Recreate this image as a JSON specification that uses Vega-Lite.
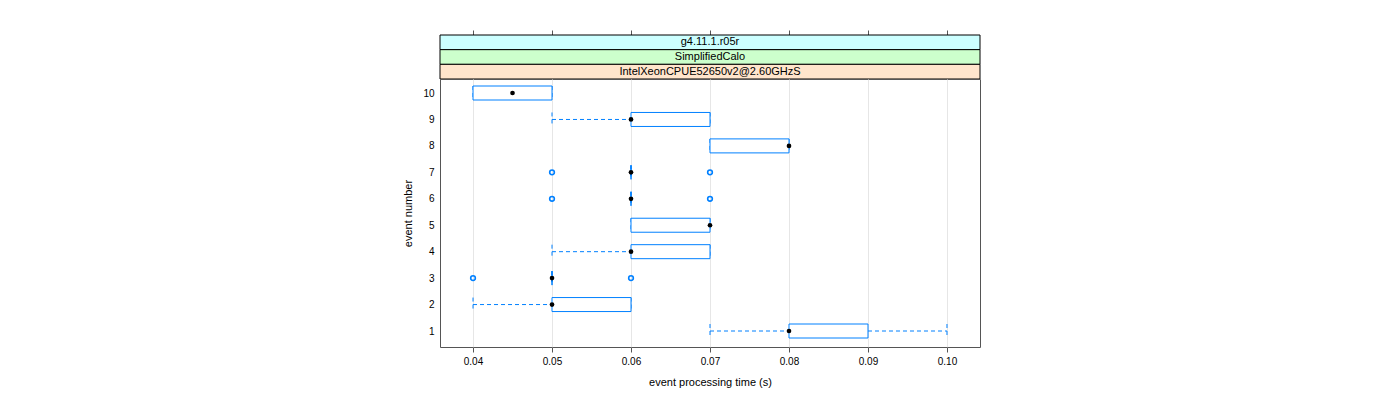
{
  "$schema": "https://vega.github.io/schema/vega-lite/v6.json",
  "background": "white",
  "padding": {"left": 402, "top": 29, "right": 0, "bottom": 0},
  "spacing": 0,
  "bounds": "flush",
  "config": {
    "font": "Liberation Sans",
    "view": {"stroke": null},
    "axis": {"labelFont": "Liberation Sans", "titleFont": "Liberation Sans", "labelColor": "#000", "titleColor": "#000", "tickColor": "#555", "labelFontSize": 10, "titleFontSize": 11, "titleFontWeight": "normal", "tickSize": 5, "labelOverlap": false}
  },
  "datasets": {
    "strips": [
      {"label": "g4.11.1.r05r"},
      {"label": "SimplifiedCalo"},
      {"label": "IntelXeonCPUE52650v2@2.60GHzS"}
    ],
    "boxes": [
      {"event": 10, "lo": 0.04, "q1": 0.04, "med": 0.045, "q3": 0.05, "hi": 0.05},
      {"event": 9, "lo": 0.05, "q1": 0.06, "med": 0.06, "q3": 0.07, "hi": 0.07},
      {"event": 8, "lo": 0.07, "q1": 0.07, "med": 0.08, "q3": 0.08, "hi": 0.08},
      {"event": 7, "lo": 0.06, "q1": 0.06, "med": 0.06, "q3": 0.06, "hi": 0.06},
      {"event": 6, "lo": 0.06, "q1": 0.06, "med": 0.06, "q3": 0.06, "hi": 0.06},
      {"event": 5, "lo": 0.06, "q1": 0.06, "med": 0.07, "q3": 0.07, "hi": 0.07},
      {"event": 4, "lo": 0.05, "q1": 0.06, "med": 0.06, "q3": 0.07, "hi": 0.07},
      {"event": 3, "lo": 0.05, "q1": 0.05, "med": 0.05, "q3": 0.05, "hi": 0.05},
      {"event": 2, "lo": 0.04, "q1": 0.05, "med": 0.05, "q3": 0.06, "hi": 0.06},
      {"event": 1, "lo": 0.07, "q1": 0.08, "med": 0.08, "q3": 0.09, "hi": 0.10}
    ],
    "outliers": [
      {"event": 7, "value": 0.05},
      {"event": 7, "value": 0.07},
      {"event": 6, "value": 0.05},
      {"event": 6, "value": 0.07},
      {"event": 3, "value": 0.04},
      {"event": 3, "value": 0.06}
    ]
  },
  "vconcat": [
    {
      "width": 540,
      "height": 44,
      "data": {"name": "strips"},
      "layer": [
        {
          "mark": {"type": "rect", "stroke": "#000", "strokeWidth": 1},
          "encoding": {
            "y": {"field": "label", "type": "nominal", "sort": null, "axis": null, "scale": {"paddingInner": 0, "paddingOuter": 0}},
            "fill": {"field": "label", "type": "nominal", "legend": null, "scale": {"domain": ["g4.11.1.r05r", "SimplifiedCalo", "IntelXeonCPUE52650v2@2.60GHzS"], "range": ["#ccffff", "#ccffcc", "#ffe5cc"]}}
          }
        },
        {
          "mark": {"type": "text", "fontSize": 11, "color": "#000", "font": "Liberation Sans"},
          "encoding": {
            "y": {"field": "label", "type": "nominal", "sort": null, "axis": null},
            "x": {"datum": 0.07, "type": "quantitative", "scale": {"domain": [0.03582, 0.10418], "nice": false, "zero": false}, "axis": {"orient": "top", "values": [0.04, 0.05, 0.06, 0.07, 0.08, 0.09, 0.1], "labels": false, "domain": false, "grid": false, "title": null}},
            "text": {"field": "label"}
          }
        }
      ]
    },
    {
      "width": 540,
      "height": 268,
      "view": {"stroke": "#555", "strokeWidth": 1},
      "encoding": {
        "y": {"field": "event", "type": "quantitative", "scale": {"domain": [0.395, 10.53], "nice": false, "zero": false}, "axis": {"values": [1, 2, 3, 4, 5, 6, 7, 8, 9, 10], "labelOverlap": false, "ticks": false, "domain": false, "grid": false, "title": "event number", "labelPadding": 6, "titlePadding": 9}}
      },
      "layer": [
        {
          "data": {"name": "boxes"},
          "mark": {"type": "rule", "color": "#0080ff", "strokeDash": [4, 3], "strokeWidth": 1},
          "encoding": {
            "x": {"field": "lo", "type": "quantitative", "scale": {"domain": [0.03582, 0.10418], "nice": false, "zero": false}, "axis": {"values": [0.04, 0.05, 0.06, 0.07, 0.08, 0.09, 0.1], "format": ".2f", "domain": false, "grid": true, "gridColor": "#e6e6e6", "labelPadding": 4, "title": "event processing time (s)", "titlePadding": 10}},
            "x2": {"field": "q1"}
          }
        },
        {
          "data": {"name": "boxes"},
          "mark": {"type": "rule", "color": "#0080ff", "strokeDash": [4, 3], "strokeWidth": 1},
          "encoding": {
            "x": {"field": "q3", "type": "quantitative"},
            "x2": {"field": "hi"}
          }
        },
        {
          "data": {"name": "boxes"},
          "mark": {"type": "rule", "color": "#0080ff", "strokeDash": [4, 3], "strokeWidth": 1, "yOffset": -7, "y2Offset": 7},
          "encoding": {
            "x": {"field": "lo", "type": "quantitative"},
            "y2": {"field": "event"}
          }
        },
        {
          "data": {"name": "boxes"},
          "mark": {"type": "rule", "color": "#0080ff", "strokeDash": [4, 3], "strokeWidth": 1, "yOffset": -7, "y2Offset": 7},
          "encoding": {
            "x": {"field": "hi", "type": "quantitative"},
            "y2": {"field": "event"}
          }
        },
        {
          "data": {"name": "boxes"},
          "mark": {"type": "rect", "fill": "white", "stroke": "#0080ff", "strokeWidth": 1, "yOffset": -7, "y2Offset": 7},
          "encoding": {
            "x": {"field": "q1", "type": "quantitative"},
            "x2": {"field": "q3"},
            "y2": {"field": "event"}
          }
        },
        {
          "data": {"name": "boxes"},
          "mark": {"type": "point", "filled": true, "color": "#000", "size": 22, "opacity": 1},
          "encoding": {
            "x": {"field": "med", "type": "quantitative"}
          }
        },
        {
          "data": {"name": "outliers"},
          "mark": {"type": "point", "filled": false, "color": "#0080ff", "size": 22, "strokeWidth": 1.6, "opacity": 1},
          "encoding": {
            "x": {"field": "value", "type": "quantitative"}
          }
        }
      ]
    }
  ]
}
